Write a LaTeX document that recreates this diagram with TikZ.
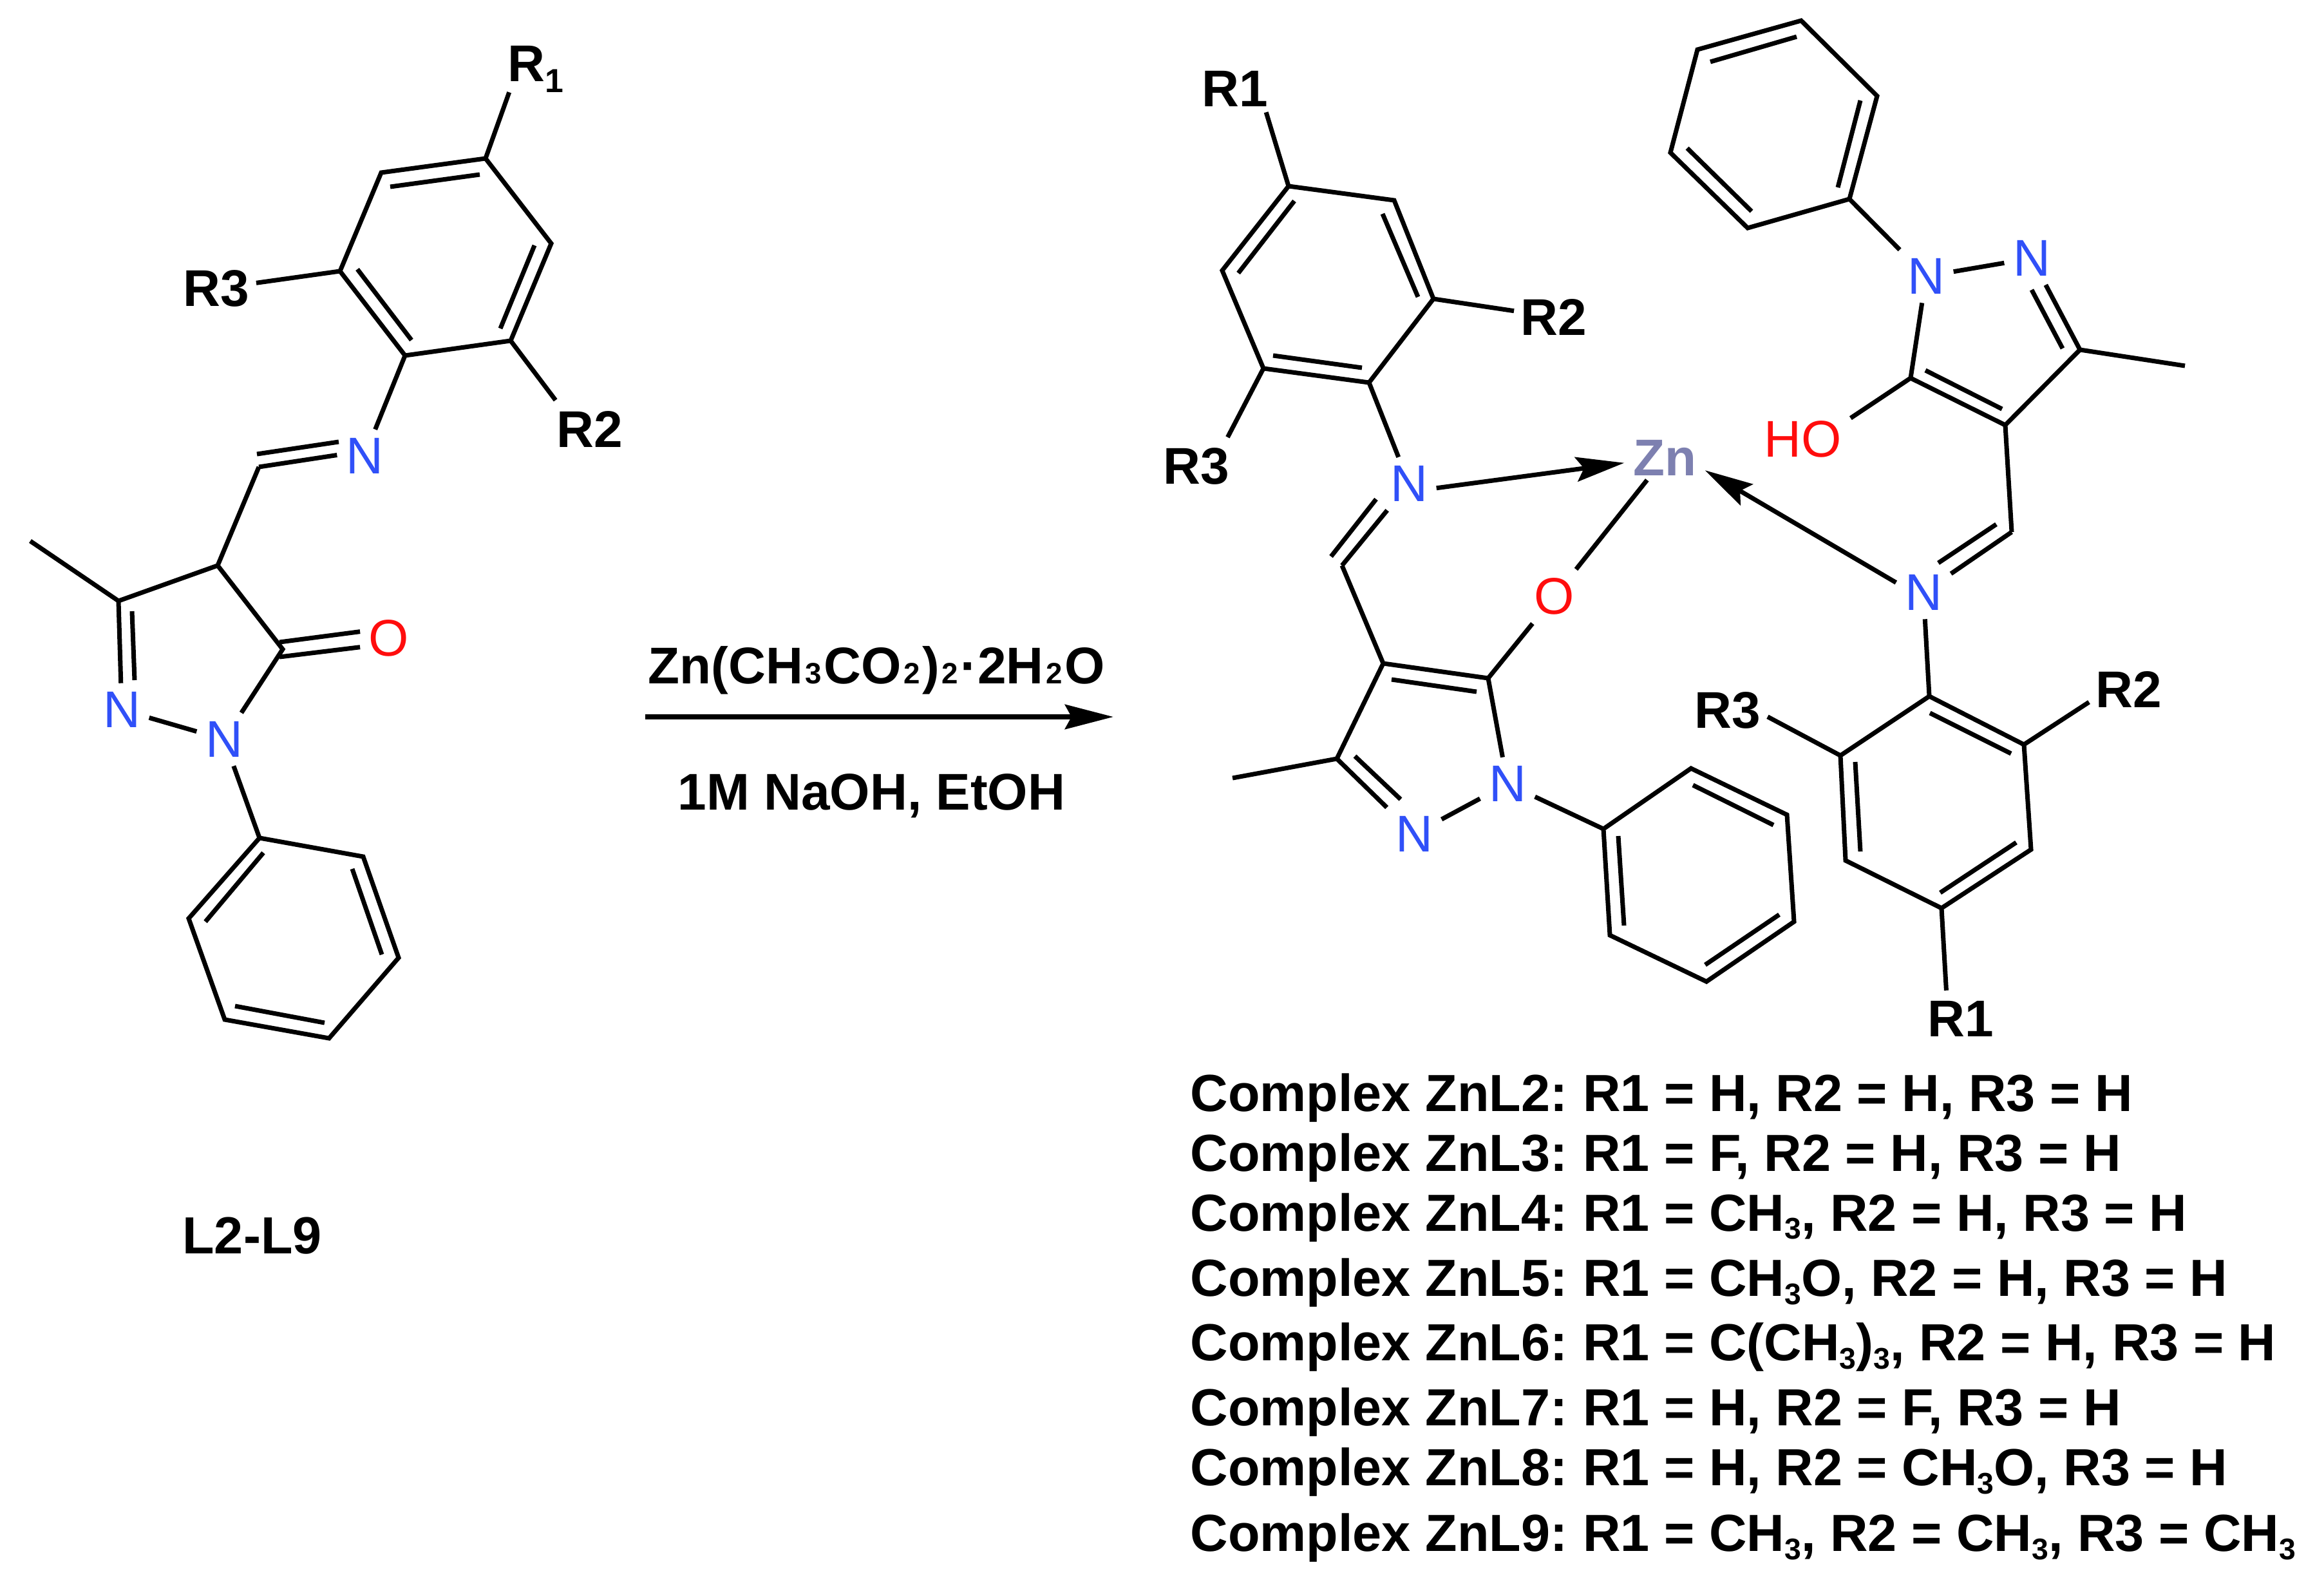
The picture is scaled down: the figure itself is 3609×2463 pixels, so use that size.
\documentclass[tikz,border=0pt]{standalone}
\usepackage{fontspec}
\setmainfont{Liberation Sans}
\usetikzlibrary{arrows.meta}
\definecolor{atomblue}{HTML}{3050F8}
\definecolor{atomred}{HTML}{FF0D0D}
\definecolor{atomzinc}{HTML}{7D80B0}
\newcommand{\listsub}[1]{\raisebox{-0.16em}{\fontsize{13.2}{14}\selectfont #1}}
\newcommand{\rgtsub}[1]{\kern1pt{\fontsize{13}{14}\selectfont #1}\kern1pt}
\newcommand{\rsub}[1]{\smash{\raisebox{-0.21em}{\fontsize{14.7}{15}\selectfont #1}}}
\newcommand{\colongap}{\kern-1.7pt}
\tikzset{
	bond/.style={line width=0.07cm, line join=miter},
	coordbond/.style={line width=0.07cm, -{Stealth[length=0.75cm,width=0.38cm,inset=0.12cm]}},
	rxnarrow/.style={line width=0.08cm, -{Stealth[length=0.75cm,width=0.38cm,inset=0.1cm]}},
	atomN/.style={text=atomblue, inner sep=0.13cm, font=\fontsize{22.8}{24}\selectfont},
	atomO/.style={text=atomred, inner sep=0.13cm, font=\fontsize{22.8}{24}\selectfont},
	atomZn/.style={text=atomzinc, inner xsep=0.13cm, inner ysep=0.06cm, font=\fontsize{22.8}{24}\selectfont\bfseries},
	rlabel/.style={inner xsep=0.1cm, inner ysep=0.16cm, font=\fontsize{22.8}{24}\selectfont\bfseries},
	listline/.style={anchor=base west, inner sep=0pt, font=\fontsize{23.05}{25}\selectfont\bfseries},
	reagent/.style={anchor=base, inner sep=0pt, font=\fontsize{22.8}{24}\selectfont\bfseries}
}
\begin{document}
\begin{tikzpicture}[x=0.01cm,y=-0.01cm]
	\useasboundingbox (0,0) rectangle (3609,2463);

	\coordinate (la1) at (754,246); \coordinate (la2) at (856,378); \coordinate (la3) at (793,529);
	\coordinate (la4) at (629,552); \coordinate (la5) at (528,421); \coordinate (la6) at (592,268);
	\coordinate (lim) at (402,725); \coordinate (lch) at (338,878); \coordinate (lcn) at (184,933);
	\coordinate (lme) at (47,840); \coordinate (lco) at (439,1008);
	\coordinate (lp1) at (403,1301); \coordinate (lp2) at (564,1330); \coordinate (lp3) at (619,1487);
	\coordinate (lp4) at (511,1612); \coordinate (lp5) at (349,1583); \coordinate (lp6) at (293,1426);

	\node[rlabel] (lRone) at (832,99) {R\rsub{1}};
	\node[rlabel] (lRtwo) at (916,666) {R2};
	\node[rlabel] (lRthree) at (336,448) {R3};
	\node[atomN] (lNim) at (566,708) {N};
	\node[atomN] (lNa) at (189,1102) {N};
	\node[atomN] (lNb) at (348,1148) {N};
	\node[atomO] (lO) at (604,991) {O};
	\node[listline, anchor=base] (lname) at (391.5,1946) {L2-L9};

	\draw[bond] (la1) -- (la2) -- (la3) -- (la4) -- (la5) -- (la6) -- cycle;
	\draw[bond] (745,271) -- (606,290);
	\draw[bond] (830,381) -- (777,510);
	\draw[bond] (639,528) -- (555,418);
	\draw[bond] (la1) -- (lRone.227);
	\draw[bond] (la3) -- (lRtwo.140);
	\draw[bond] (la5) -- (lRthree);
	\draw[bond] (la4) -- (lNim);
	\draw[bond] (lim) -- (lNim.178);
	\draw[bond] (399,705) -- (526,686);
	\draw[bond] (lim) -- (lch) -- (lcn) -- (lme);
	\draw[bond] (lcn) -- (lNa);
	\draw[bond] (205,949) -- (209,1056);
	\draw[bond] (lNa) -- (lNb);
	\draw[bond] (lch) -- (lco) -- (lNb);
	\draw[bond] (434,997) -- (lO.167);
	\draw[bond] (434,1020) -- (lO.197);
	\draw[bond] (lNb) -- (lp1);
	\draw[bond] (lp1) -- (lp2) -- (lp3) -- (lp4) -- (lp5) -- (lp6) -- cycle;
	\draw[bond] (409,1324) -- (319,1431);
	\draw[bond] (547,1349) -- (593,1482);
	\draw[bond] (504,1588) -- (365,1562);

	\node[reagent] (rgtup) at (1361,1061) {Zn(CH\rgtsub{3}CO\rgtsub{2})\rgtsub{2}·2H\rgtsub{2}O};
	\node[reagent] (rgtdown) at (1353.5,1257) {1M NaOH, EtOH};
	\coordinate (rxnstart) at (1002,1113);
	\coordinate (rxnend) at (1729,1113);
	\draw[rxnarrow] (rxnstart) -- (rxnend);

	\coordinate (b1) at (2001,289); \coordinate (b2) at (2165,311); \coordinate (b3) at (2226,464);
	\coordinate (b4) at (2126,594); \coordinate (b5) at (1962,572); \coordinate (b6) at (1898,420);
	\coordinate (d1) at (2084,878); \coordinate (d2) at (2148,1030); \coordinate (d3) at (2311,1053);
	\coordinate (d5) at (2076,1178); \coordinate (dme) at (1914,1208);
	\coordinate (e1) at (2490,1287); \coordinate (e2) at (2626,1193); \coordinate (e3) at (2775,1265);
	\coordinate (e4) at (2786,1431); \coordinate (e5) at (2650,1524); \coordinate (e6) at (2500,1452);
	\coordinate (f1) at (2872,309); \coordinate (f2) at (2915,149); \coordinate (f3) at (2797,32);
	\coordinate (f4) at (2636,77); \coordinate (f5) at (2594,237); \coordinate (f6) at (2714,354);
	\coordinate (g1) at (3230,543); \coordinate (g2) at (3114,660); \coordinate (g3) at (2967,587);
	\coordinate (gme) at (3393,568); \coordinate (h1) at (3124,826);
	\coordinate (i1) at (2996,1081); \coordinate (i2) at (3143,1156); \coordinate (i3) at (3154,1319);
	\coordinate (i4) at (3015,1410); \coordinate (i5) at (2866,1336); \coordinate (i6) at (2858,1173);

	\node[atomZn] (zn) at (2585,711) {Zn};
	\node[atomN] (cNa) at (2188,751) {N};
	\node[atomN] (cNb) at (2987,920) {N};
	\node[atomN] (cNc) at (2341,1217) {N};
	\node[atomN] (cNd) at (2196,1295) {N};
	\node[atomN] (cNe) at (2991,429) {N};
	\node[atomN] (cNf) at (3155,401) {N};
	\node[atomO] (cO) at (2414,926) {O};
	\node[atomO] (cHO) at (2800,682) {HO};
	\node[rlabel, inner ysep=0.08cm] (cRoneA) at (1918,138) {R1};
	\node[rlabel] (cRtwoA) at (2413,492) {R2};
	\node[rlabel] (cRthreeA) at (1858,724) {R3};
	\node[rlabel] (cRoneB) at (3045,1582) {R1};
	\node[rlabel] (cRtwoB) at (3306,1070) {R2};
	\node[rlabel] (cRthreeB) at (2683,1103) {R3};

	\draw[bond] (b1) -- (b2) -- (b3) -- (b4) -- (b5) -- (b6) -- cycle;
	\draw[bond] (2010,312) -- (1923,424);
	\draw[bond] (2147,332) -- (2202,461);
	\draw[bond] (2115,571) -- (1977,552);
	\draw[bond] (b1) -- (cRoneA.323);
	\draw[bond] (b3) -- (cRtwoA);
	\draw[bond] (b5) -- (cRthreeA.43);
	\draw[bond] (b4) -- (cNa);
	\draw[bond] (d1) -- (cNa);
	\draw[bond] (2067,864) -- (2137,775);
	\draw[bond] (d1) -- (d2) -- (d3);
	\draw[bond] (2161,1055) -- (2293,1074);
	\draw[bond] (d3) -- (cNc);
	\draw[bond] (cNc) -- (cNd);
	\draw[bond] (d5) -- (cNd);
	\draw[bond] (2104,1174) -- (2175,1241);
	\draw[bond] (d2) -- (d5) -- (dme);
	\draw[bond] (d3) -- (cO);
	\draw[bond] (cO) -- (zn);
	\draw[bond] (cNc) -- (e1);
	\draw[bond] (e1) -- (e2) -- (e3) -- (e4) -- (e5) -- (e6) -- cycle;
	\draw[bond] (2629,1219) -- (2754,1281);
	\draw[bond] (2763,1420) -- (2648,1498);
	\draw[bond] (2513,1298) -- (2522,1437);
	\draw[coordbond] (cNa.-9) -- (zn.187);
	\draw[coordbond] (cNb.160) -- (zn.-17);

	\draw[bond] (f1) -- (f2) -- (f3) -- (f4) -- (f5) -- (f6) -- cycle;
	\draw[bond] (2854,291) -- (2889,156);
	\draw[bond] (2790,57) -- (2656,96);
	\draw[bond] (2620,230) -- (2720,328);
	\draw[bond] (f1) -- (cNe);
	\draw[bond] (cNe) -- (cNf);
	\draw[bond] (g1) -- (cNf);
	\draw[bond] (3155,450) -- (3203,541);
	\draw[bond] (gme) -- (g1) -- (g2) -- (g3);
	\draw[bond] (2990,575) -- (3109,635);
	\draw[bond] (g3) -- (cNe);
	\draw[bond] (g3) -- (cHO.24);
	\draw[bond] (g2) -- (h1);
	\draw[bond] (h1) -- (cNb);
	\draw[bond] (3100,814) -- (3010,874);
	\draw[bond] (cNb) -- (i1);
	\draw[bond] (i1) -- (i2) -- (i3) -- (i4) -- (i5) -- (i6) -- cycle;
	\draw[bond] (2997,1107) -- (3123,1170);
	\draw[bond] (3131,1308) -- (3013,1386);
	\draw[bond] (2881,1183) -- (2889,1322);
	\draw[bond] (i2) -- (cRtwoB.198);
	\draw[bond] (i6) -- (cRthreeB.-9);
	\draw[bond] (i4) -- (cRoneB.117);

	\node[listline] (znltwo) at (1848,1725) {Complex ZnL2:\colongap{} R1 = H, R2 = H, R3 = H};
	\node[listline] (znlthree) at (1848,1818) {Complex ZnL3:\colongap{} R1 = F, R2 = H, R3 = H};
	\node[listline] (znlfour) at (1848,1911) {Complex ZnL4:\colongap{} R1 = CH\listsub{3}, R2 = H, R3 = H};
	\node[listline] (znlfive) at (1848,2012) {Complex ZnL5:\colongap{} R1 = CH\listsub{3}O, R2 = H, R3 = H};
	\node[listline] (znlsix) at (1848,2112) {Complex ZnL6:\colongap{} R1 = C(CH\listsub{3})\listsub{3}, R2 = H, R3 = H};
	\node[listline] (znlseven) at (1848,2213) {Complex ZnL7:\colongap{} R1 = H, R2 = F, R3 = H};
	\node[listline] (znleight) at (1848,2306) {Complex ZnL8:\colongap{} R1 = H, R2 = CH\listsub{3}O, R3 = H};
	\node[listline] (znlnine) at (1848,2408) {Complex ZnL9:\colongap{} R1 = CH\listsub{3}, R2 = CH\listsub{3}, R3 = CH\listsub{3}};
\end{tikzpicture}
\end{document}
